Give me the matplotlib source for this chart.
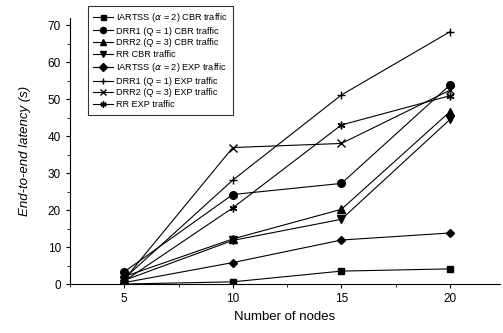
import matplotlib
matplotlib.use('Agg')
import matplotlib.pyplot as plt
from matplotlib.ticker import MultipleLocator

plt.rcParams['font.family'] = ['Liberation Sans', 'DejaVu Sans']

nodes = [5, 10, 15, 20]

iartss_cbr = [0.0, 0.6, 3.5, 4.1]
drr1_cbr = [3.3, 24.2, 27.2, 53.8]
drr2_cbr = [2.0, 12.2, 20.2, 46.6]
rr_cbr = [1.0, 11.8, 17.5, 44.5]
iartss_exp = [0.4, 5.8, 11.9, 13.8]
drr1_exp = [1.5, 28.1, 51.1, 68.2]
drr2_exp = [1.2, 36.9, 38.0, 52.4]
rr_exp = [0.8, 20.6, 43.0, 50.9]

labels = ['IARTSS ($\\alpha$ = 2) CBR traffic',
          'DRR1 (Q = 1) CBR traffic',
          'DRR2 (Q = 3) CBR traffic',
          'RR CBR traffic',
          'IARTSS ($\\alpha$ = 2) EXP traffic',
          'DRR1 (Q = 1) EXP traffic',
          'DRR2 (Q = 3) EXP traffic',
          'RR EXP traffic']
series = [iartss_cbr, drr1_cbr, drr2_cbr, rr_cbr,
          iartss_exp, drr1_exp, drr2_exp, rr_exp]
markers = ['s', 'o', '^', 'v', 'D', '+', 'x', (6, 2, 0)]
msizes = [4.5, 5.5, 5.5, 5.5, 4.5, 5.5, 5.5, 5.5]

fig = plt.figure(figsize=(5.03, 3.33), dpi=100)
ax = fig.add_axes([0.139, 0.147, 0.855, 0.8])

for vals, lab, m, ms in zip(series, labels, markers, msizes):
    ax.plot(nodes, vals, color='black', lw=0.8, marker=m, markersize=ms,
            markeredgewidth=1.0, label=lab)

ax.set_xlim(2.5, 22.3)
ax.set_ylim(0, 72)
ax.set_xticks([5, 10, 15, 20])
ax.set_yticks(range(0, 71, 10))
ax.xaxis.set_minor_locator(MultipleLocator(2.5))
ax.yaxis.set_minor_locator(MultipleLocator(5))
ax.tick_params(labelsize=8.5, length=3, width=0.8)
ax.tick_params(which='minor', length=2)
ax.spines['top'].set_visible(False)
ax.spines['right'].set_visible(False)

ax.set_xlabel('Number of nodes', fontsize=9.5)
ax.set_ylabel('End-to-end latency (s)', fontsize=9.5, style='italic', labelpad=12)

leg = ax.legend(loc='upper left', bbox_to_anchor=(0.165, 0.997),
                bbox_transform=fig.transFigure, fontsize=6.6, frameon=True,
                fancybox=False, edgecolor='black', handlelength=2.2,
                labelspacing=0.28, borderpad=0.6, handletextpad=0.3,
                markerscale=0.8)
leg.get_frame().set_linewidth(0.8)

fig.savefig('out.png', dpi=100)
